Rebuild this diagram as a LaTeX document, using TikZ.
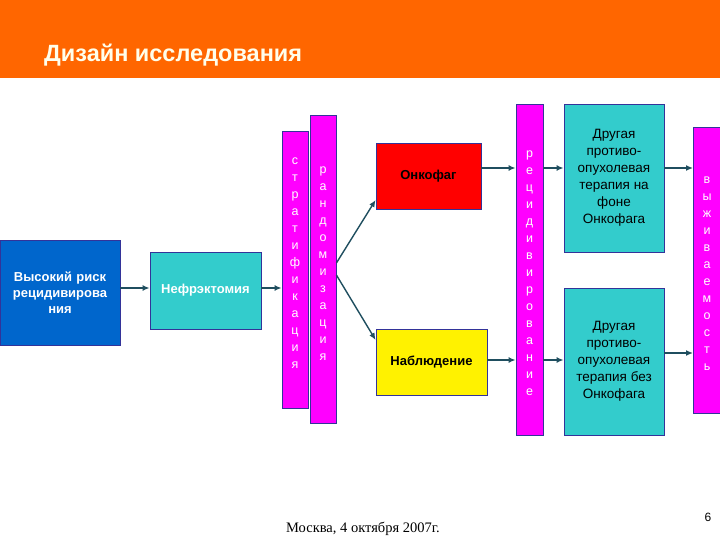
\documentclass[tikz,border=0pt]{standalone}
\usepackage{fontspec}
\setmainfont{Liberation Sans}
\newfontfamily\timesf{Liberation Serif}
\usetikzlibrary{arrows.meta}
\definecolor{orng}{HTML}{FF6600}
\definecolor{blu}{HTML}{0066CC}
\definecolor{tea}{HTML}{33CCCC}
\definecolor{mag}{HTML}{FF00FF}
\definecolor{edg}{HTML}{333399}
\definecolor{arr}{HTML}{1F4E5F}
\begin{document}
\begin{tikzpicture}[x=1pt,y=-1pt,
  box/.style={draw=edg,line width=0.8pt,inner sep=0pt,align=center},
  vtext/.style={align=center,font=\fontsize{12.5}{17}\selectfont,text=white,inner sep=0pt},
  con/.style={draw=arr,line width=1.4pt,-{Latex[length=7pt,width=6pt]}}]
\useasboundingbox (0,0) rectangle (720,540);
\fill[orng] (0,0) rectangle (720,78);
\node[anchor=base west,text=white!92!yellow,font=\bfseries\fontsize{23.5}{28}\selectfont,inner sep=0pt] (title) at (44,62) {Дизайн исследования};
% boxes
\node[box,fill=blu,minimum width=120pt,minimum height=105pt,text=white,font=\bfseries\fontsize{13}{16}\selectfont,text width=116pt] (risk) at (60,292.5) {Высокий риск\\ рецидивирова\\ ния};
\node[box,fill=tea,minimum width=111pt,minimum height=77pt,text=white,font=\bfseries\fontsize{13}{16}\selectfont] (nef) at (205.5,290.5) {Нефрэктомия};
\node[box,fill=mag,minimum width=26pt,minimum height=277pt] (strat) at (295,269.5) {};
\node[box,fill=mag,minimum width=26pt,minimum height=308pt] (rand) at (323,269) {};
\node[vtext] (stratt) at (295,263) {с\\т\\р\\а\\т\\и\\ф\\и\\к\\а\\ц\\и\\я};
\node[vtext] (randt) at (323,264) {р\\а\\н\\д\\о\\м\\и\\з\\а\\ц\\и\\я};
\node[box,fill=red,minimum width=105pt,minimum height=66pt,font=\bfseries\fontsize{13}{16}\selectfont] (onko) at (428.5,176) {Онкофаг};
\node[box,fill=yellow,minimum width=111pt,minimum height=66pt,font=\bfseries\fontsize{13}{16}\selectfont] (nabl) at (431.5,362) {Наблюдение};
\node[box,fill=mag,minimum width=27pt,minimum height=331pt] (rec) at (529.5,269.5) {};
\node[vtext] (rect) at (529.5,273) {р\\е\\ц\\и\\д\\и\\в\\и\\р\\о\\в\\а\\н\\и\\е};
\node[box,fill=tea,minimum width=100pt,minimum height=148pt,font=\fontsize{13.5}{17}\selectfont] (ot1) at (614,178) {Другая\\противо-\\опухолевая\\терапия на\\фоне\\Онкофага};
\node[box,fill=tea,minimum width=100pt,minimum height=147pt,font=\fontsize{13.5}{17}\selectfont] (ot2) at (614,361.5) {Другая\\противо-\\опухолевая\\терапия без\\Онкофага};
\node[box,fill=mag,minimum width=28pt,minimum height=286pt,anchor=west] (surv) at (693,270) {};
\node[vtext] (survt) at (707,274) {в\\ы\\ж\\и\\в\\а\\е\\м\\о\\с\\т\\ь};
% connectors
\draw[con] (risk.east |- 0,288) -- (nef.west |- 0,288);
\draw[con] (nef.east |- 0,288) -- (strat.west |- 0,288);
\draw[con] (rand.east |- 0,263) -- (onko.west |- 0,200);
\draw[con] (rand.east |- 0,275) -- (nabl.west |- 0,340);
\draw[con] (onko.east |- 0,168) -- (rec.west |- 0,168);
\draw[con] (nabl.east |- 0,360) -- (rec.west |- 0,360);
\draw[con] (rec.east |- 0,168) -- (ot1.west |- 0,168);
\draw[con] (rec.east |- 0,360) -- (ot2.west |- 0,360);
\draw[con] (ot1.east |- 0,168) -- (surv.west |- 0,168);
\draw[con] (ot2.east |- 0,353) -- (surv.west |- 0,353);
% footer
\node[anchor=base,font=\timesf\fontsize{14.5}{16}\selectfont,inner sep=0pt] (foot) at (363,532) {Москва, 4 октября 2007г.};
\node[anchor=base,font=\fontsize{12}{14}\selectfont,inner sep=0pt] (pg) at (708,521) {6};
\end{tikzpicture}
\end{document}
